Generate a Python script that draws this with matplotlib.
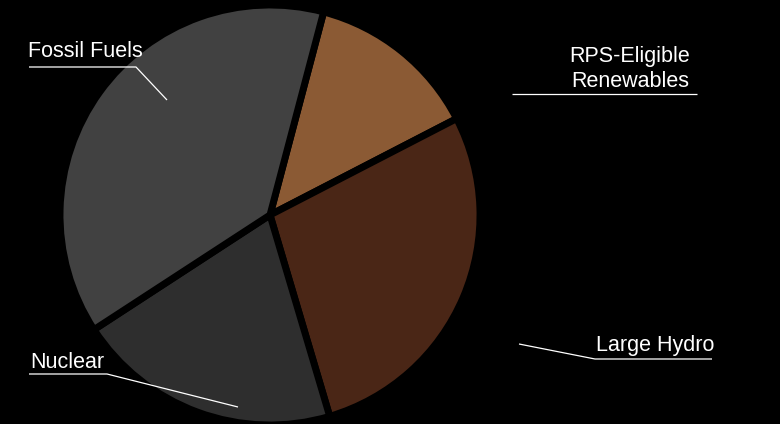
import numpy as np
import matplotlib.pyplot as plt

# parts du mix (%), sens horaire à partir du haut
labels = ['RPS-Eligible\nRenewables', 'Large Hydro', 'Nuclear', 'Fossil Fuels']
values = [13.3, 28.0, 20.4, 38.3]
colors = ['#8b5a34', '#4a2616', '#2e2e2e', '#414141']

W, H = 780, 424

fig = plt.figure(figsize=(7.8, 4.24), dpi=100, facecolor='black')
ax = fig.add_axes([0, 0, 1, 1])
ax.set_facecolor('black')

ax.pie(values, colors=colors, startangle=75.2, counterclock=False,
       center=(270, H - 215), radius=210,
       explode=[0.02, 0.02, 0.01, 0.01],
       wedgeprops=dict(edgecolor='black', linewidth=5))

ax.set_xlim(0, W)
ax.set_ylim(0, H)
ax.set_aspect('auto')
ax.axis('off')

font = dict(family=['Liberation Sans', 'DejaVu Sans'], size=15.5, color='white')

def line(xs, ys):
    ax.plot(xs, [H - y for y in ys], color='white', lw=0.9, solid_capstyle='butt')

# Fossil Fuels
ax.text(28, H - 57, labels[3], ha='left', va='baseline', **font)
line([29, 136, 167], [67, 67, 100])

# RPS-Eligible Renewables
ax.text(630, H - 62, 'RPS-Eligible', ha='center', va='baseline', **font)
ax.text(630, H - 87, 'Renewables', ha='center', va='baseline', **font)
line([512, 697], [94, 94])

# Large Hydro
ax.text(596, H - 351, labels[1], ha='left', va='baseline', **font)
line([519, 595, 712], [344, 359, 359])

# Nuclear
ax.text(30, H - 368, labels[2], ha='left', va='baseline', **font)
line([29, 107, 238], [374, 374, 407])

fig.savefig('out.png', dpi=100, facecolor='black')
